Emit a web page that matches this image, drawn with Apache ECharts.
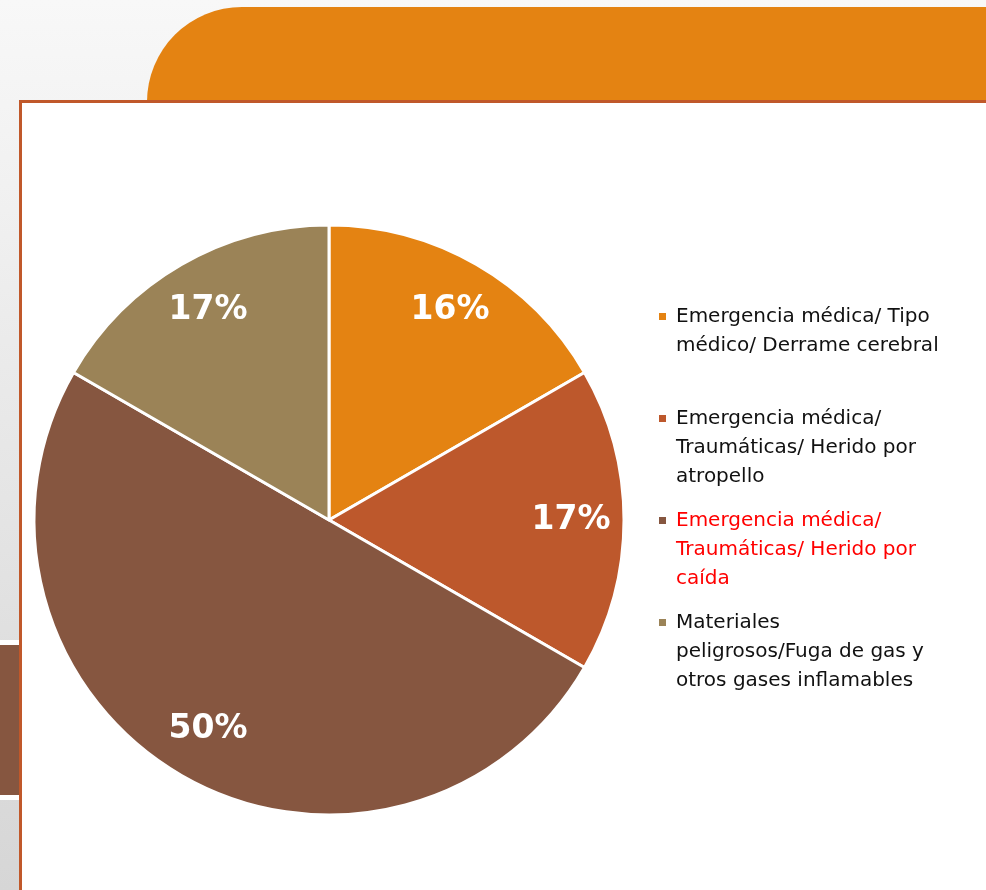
<!DOCTYPE html>
<html>
<head>
<meta charset="utf-8">
<script src="https://cdn.jsdelivr.net/npm/echarts@6/dist/echarts.min.js"></script>
<style>
  html, body { margin: 0; padding: 0; }
  #chart { width: 986px; height: 890px; }
</style>
</head>
<body>
<div id="chart"></div>
<script>
// datos
const categories = [
  'Emergencia médica/ Tipo médico/ Derrame cerebral',
  'Emergencia médica/ Traumáticas/ Herido por atropello',
  'Emergencia médica/ Traumáticas/ Herido por caída',
  'Materiales peligrosos/Fuga de gas y otros gases inflamables'
];
const values = [1, 1, 3, 1];
const pctLabels = ['16%', '17%', '50%', '17%'];
// texto de leyenda en lineas (como en la diapositiva)
const legendLines = [
  'Emergencia médica/ Tipo\nmédico/ Derrame cerebral\n ',
  'Emergencia médica/\nTraumáticas/ Herido por\natropello',
  'Emergencia médica/\nTraumáticas/ Herido por\ncaída',
  'Materiales\npeligrosos/Fuga de gas y\notros gases inflamables'
];
const colors = ['#E48312', '#BD582C', '#865640', '#9B8357'];
const legendColors = ['#111111', '#111111', '#FF0000', '#111111'];

const chart = echarts.init(document.getElementById('chart'));

const seriesData = categories.map((name, i) => ({ name: name, value: values[i] }));

const option = {
  animation: false,
  backgroundColor: {
    type: 'linear', x: 0, y: 0, x2: 0, y2: 1,
    colorStops: [{ offset: 0, color: '#f8f8f8' }, { offset: 1, color: '#d6d6d6' }]
  },
  color: colors,
  graphic: [
    // pestaña naranja
    { type: 'rect', z: -10, shape: { x: 147, y: 7, width: 900, height: 120, r: [95, 0, 0, 0] }, style: { fill: '#E48312' } },
    // bandas a la izquierda
    { type: 'rect', z: -10, shape: { x: 0, y: 640, width: 20, height: 5 }, style: { fill: '#ffffff' } },
    { type: 'rect', z: -10, shape: { x: 0, y: 645, width: 20, height: 150 }, style: { fill: '#865640' } },
    { type: 'rect', z: -10, shape: { x: 0, y: 795, width: 20, height: 5 }, style: { fill: '#ffffff' } },
    // panel blanco
    { type: 'rect', z: -9, shape: { x: 20.5, y: 101.5, width: 1000, height: 900 }, style: { fill: '#ffffff', stroke: '#C0582A', lineWidth: 3 } }
  ],
  legend: {
    orient: 'vertical',
    left: 657,
    top: 244,
    padding: 0,
    itemGap: -43,
    itemWidth: 9,
    itemHeight: 9,
    icon: 'rect',
    selectedMode: false,
    data: categories.map((name, i) => ({
      name: name,
      textStyle: { color: legendColors[i] }
    })),
    // dos lineas vacias arriba para que el cuadrito quede en la primera linea
    formatter: function (name) {
      return ' \n \n' + legendLines[categories.indexOf(name)];
    },
    textStyle: {
      fontFamily: 'DejaVu Sans',
      fontSize: 20,
      lineHeight: 29,
      padding: [0, 0, 0, 4]
    }
  },
  series: [
    {
      type: 'pie',
      center: [329, 520],
      radius: [0, 295],
      startAngle: 90,
      clockwise: true,
      silent: true,
      label: { show: false },
      labelLine: { show: false },
      itemStyle: { borderColor: '#ffffff', borderWidth: 3 },
      data: seriesData
    },
    {
      // serie transparente solo para colocar las etiquetas mas afuera
      type: 'pie',
      center: [329, 520],
      radius: [183, 295],
      startAngle: 90,
      clockwise: true,
      silent: true,
      itemStyle: { color: 'rgba(0,0,0,0)' },
      label: {
        show: true,
        position: 'inside',
        formatter: p => pctLabels[p.dataIndex],
        color: '#ffffff',
        fontFamily: 'DejaVu Sans',
        fontWeight: 'bold',
        fontSize: 33
      },
      labelLine: { show: false },
      data: seriesData
    }
  ]
};

chart.setOption(option);
</script>
</body>
</html>
